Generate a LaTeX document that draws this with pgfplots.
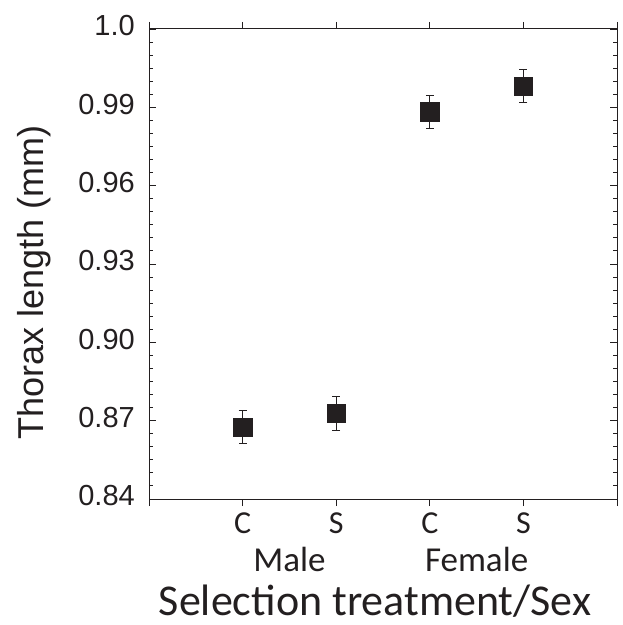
\documentclass[border=0pt]{standalone}
\usepackage{pgfplots}
\pgfplotsset{compat=1.18}
\usepackage{fontspec}
\setmainfont{Liberation Sans}
\newfontfamily\cali{Carlito}
\definecolor{ink}{HTML}{231F20}

\begin{document}
\begin{tikzpicture}
\begin{axis}[
    scale only axis,
    width=468bp, height=470bp,
    xmin=0, xmax=5,
    ymin=0.84, ymax=1.02,
    xtick={0,1,2,3,4,5},
    xticklabels={,C,S,C,S,},
    ytick={0.84,0.87,0.90,0.93,0.96,0.99,1.02},
    yticklabels={0.84,0.87,0.90,0.93,0.96,0.99,1.0},
    minor y tick num=5,
    xtick align=outside,
    ytick align=inside,
    major tick length=7bp,
    minor tick length=4bp,
    axis line style={ink, line width=1bp},
    tick style={ink, line width=0.9bp},
    /pgf/number format/assume math mode=true,
    yticklabel style={font=\fontsize{29bp}{34bp}\selectfont, anchor=east, inner sep=0pt, xshift=-14bp, yshift=3bp, text=ink},
    xticklabel style={font=\cali\fontsize{32bp}{36bp}\selectfont, anchor=base, inner sep=0pt, yshift=-27bp, text=ink},
]
\addplot[only marks, mark=square*, mark size=9.25bp, ink,
    mark options={ink, fill=ink},
    error bars/.cd, y dir=both, y explicit,
    error bar style={line width=1.2bp, ink},
    error mark options={rotate=90, mark size=4bp, line width=1bp, ink}]
coordinates {
    (1,0.8675) +- (0,0.0064)
    (2,0.8728) +- (0,0.0064)
    (3,0.9883) +- (0,0.0064)
    (4,0.9981) +- (0,0.0064)
};
\end{axis}
\node[anchor=base, text=ink, font=\cali\fontsize{35bp}{40bp}\selectfont] at (140.4bp,-72bp) {Male};
\node[anchor=base, text=ink, font=\cali\fontsize{35bp}{40bp}\selectfont] at (327.6bp,-72bp) {Female};
\node[anchor=base, text=ink, font=\cali\fontsize{44bp}{48bp}\selectfont] at (226bp,-116bp) {Selection treatment/Sex};
\node[anchor=base, rotate=90, text=ink, font=\fontsize{36bp}{40bp}\selectfont] at (-105bp,216.5bp) {Thorax length (mm)};
\pgfresetboundingbox
\useasboundingbox (-149bp,-126bp) rectangle (474bp,499bp);
\end{tikzpicture}
\end{document}
